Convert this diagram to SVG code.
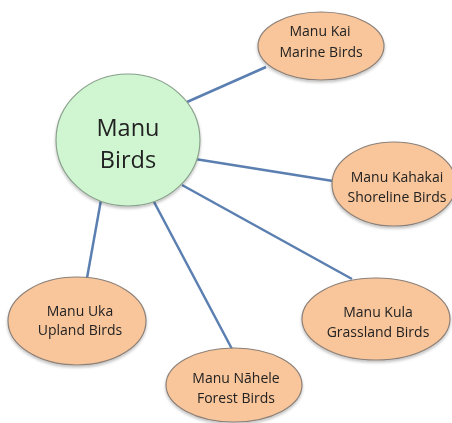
<svg xmlns="http://www.w3.org/2000/svg" width="452" height="423" viewBox="0 0 452 423">
  <defs>
    <filter id="soft" x="-20%" y="-20%" width="140%" height="150%">
      <feGaussianBlur in="SourceAlpha" stdDeviation="1.5"/>
      <feOffset dx="0" dy="2" result="b"/>
      <feComponentTransfer><feFuncA type="linear" slope="0.25"/></feComponentTransfer>
      <feMerge><feMergeNode/><feMergeNode in="SourceGraphic"/></feMerge>
    </filter>
  </defs>
  <style>
    .hub { fill: #cff6d1; stroke: #8aa08c; stroke-width: 1.2; }
    .leaf { fill: #f9c59a; stroke: #8c8078; stroke-width: 1.2; }
    .link { stroke: #5b7fb0; stroke-width: 2.5; fill: none; }
    text { font-family: "Open Sans", "Noto Sans", sans-serif; fill: #222; text-anchor: middle; }
    .big { font-size: 23.5px; }
    .small { font-size: 14px; }
  </style>
  <rect width="452" height="423" fill="#ffffff"/>

  <g id="connectors">
    <line class="link" x1="187" y1="102" x2="266" y2="67"/>
    <line class="link" x1="195" y1="159" x2="333" y2="181"/>
    <line class="link" x1="182" y1="185" x2="352" y2="279"/>
    <line class="link" x1="153" y1="200" x2="232" y2="349"/>
    <line class="link" x1="101" y1="200" x2="87" y2="278"/>
  </g>

  <g id="manu-birds" filter="url(#soft)">
    <ellipse class="hub" cx="128" cy="140" rx="72" ry="66"/>
    <text class="big" x="128" y="136">Manu</text>
    <text class="big" x="128" y="168">Birds</text>
  </g>

  <g id="manu-kai" filter="url(#soft)">
    <ellipse class="leaf" cx="321" cy="46" rx="63" ry="34"/>
    <text class="small" x="320" y="36">Manu Kai</text>
    <text class="small" x="321" y="57">Marine Birds</text>
  </g>

  <g id="manu-kahakai" filter="url(#soft)">
    <ellipse class="leaf" cx="394" cy="184" rx="62" ry="42"/>
    <text class="small" x="397" y="182">Manu Kahakai</text>
    <text class="small" x="397" y="202">Shoreline Birds</text>
  </g>

  <g id="manu-kula" filter="url(#soft)">
    <ellipse class="leaf" cx="376" cy="319" rx="74" ry="41"/>
    <text class="small" x="378" y="317">Manu Kula</text>
    <text class="small" x="378" y="337">Grassland Birds</text>
  </g>

  <g id="manu-nahele" filter="url(#soft)">
    <ellipse class="leaf" cx="234" cy="385" rx="68" ry="37"/>
    <text class="small" x="236" y="383">Manu Nāhele</text>
    <text class="small" x="236" y="403">Forest Birds</text>
  </g>

  <g id="manu-uka" filter="url(#soft)">
    <ellipse class="leaf" cx="77" cy="321" rx="69" ry="44"/>
    <text class="small" x="80" y="316">Manu Uka</text>
    <text class="small" x="80" y="335">Upland Birds</text>
  </g>
</svg>
